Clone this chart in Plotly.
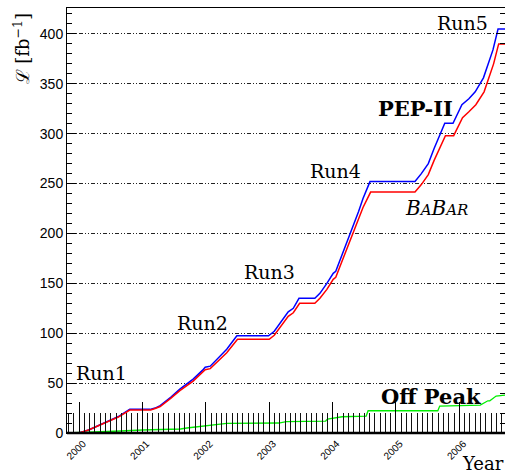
import plotly.graph_objects as go

# ---- data (decimal year, integrated luminosity fb^-1) ----
pep_year = [1999.81, 2000.0, 2000.15, 2000.3, 2000.45, 2000.57, 2000.62, 2000.80, 2001.12, 2001.20,
            2001.28, 2001.45, 2001.59, 2001.80, 2001.95, 2001.99, 2002.07, 2002.20, 2002.33, 2002.49,
            2002.99, 2003.08, 2003.17, 2003.30, 2003.38, 2003.47, 2003.72, 2003.80, 2003.91, 2004.01,
            2004.05, 2004.22, 2004.41, 2004.48, 2004.59, 2005.30, 2005.40, 2005.51, 2005.60, 2005.77,
            2005.90, 2006.04, 2006.15, 2006.25, 2006.38, 2006.53, 2006.61, 2006.72]
pep_lumi = [0, 0, 3, 7, 11.5, 15, 16.5, 23.7, 23.7, 25,
            27.5, 36, 44, 54, 63, 66, 67, 75, 84, 97.5,
            97.5, 102, 110, 121.5, 125, 135, 135, 140, 150, 160,
            162, 190, 222, 235, 252, 252, 260, 270, 285, 310.5,
            310.5, 329, 335, 342, 356, 384, 405, 405]

babar_year = [1999.81, 2000.0, 2000.15, 2000.3, 2000.45, 2000.57, 2000.62, 2000.80, 2001.13, 2001.20,
              2001.28, 2001.45, 2001.59, 2001.80, 2001.95, 2001.99, 2002.07, 2002.20, 2002.33, 2002.50,
              2003.00, 2003.08, 2003.17, 2003.30, 2003.38, 2003.48, 2003.72, 2003.80, 2003.91, 2004.01,
              2004.05, 2004.22, 2004.41, 2004.48, 2004.60, 2005.30, 2005.40, 2005.51, 2005.60, 2005.78,
              2005.91, 2006.05, 2006.15, 2006.26, 2006.39, 2006.54, 2006.62, 2006.72]
babar_lumi = [0, 0, 3, 7, 11, 14.5, 16, 23, 23, 24.5,
              26.5, 35, 42.5, 52, 61, 63.5, 64.5, 72, 80.5, 94,
              94, 98, 106, 117, 120.5, 130, 130, 135, 144, 154,
              156, 183, 213, 226, 241.5, 241.5, 249, 259, 273, 298,
              298, 316, 322, 329, 342, 370, 390, 390]

off_year = [1999.81, 2000.09, 2000.65, 2001.0, 2001.6, 2001.7, 2001.86, 2002.07, 2002.33, 2003.15,
            2003.27, 2003.89, 2003.92, 2004.15, 2004.53, 2004.56, 2005.66, 2005.69, 2006.30, 2006.33,
            2006.45, 2006.48, 2006.58, 2006.72]
off_lumi = [0, 0.5, 2, 3, 4, 5, 6.3, 8, 9.7, 10,
            11.5, 12, 14, 16.3, 17, 22.3, 22.3, 27, 27.5, 28,
            32.3, 32.3, 37, 38]

year_ticks = [2000, 2001, 2002, 2003, 2004, 2005, 2006]
lumi_ticks = [0, 50, 100, 150, 200, 250, 300, 350, 400]

X_RANGE = [1999.81, 2006.72]
Y_RANGE = [0, 426]

fig = go.Figure()
fig.add_trace(go.Scatter(x=off_year, y=off_lumi, mode="lines",
                         line=dict(color="#00ee00", width=1.3), showlegend=False))
fig.add_trace(go.Scatter(x=pep_year, y=pep_lumi, mode="lines",
                         line=dict(color="#0000ff", width=1.5), showlegend=False))
fig.add_trace(go.Scatter(x=babar_year, y=babar_lumi, mode="lines",
                         line=dict(color="#ff0000", width=1.5), showlegend=False))

serif = "DejaVu Serif"
ann = [
    ("Run1", 2000.355, 60.1, 19),
    ("Run2", 2001.948, 109.8, 19),
    ("Run3", 2002.997, 160.9, 19),
    ("Run4", 2004.046, 263.1, 19),
    ("Run5", 2006.049, 411.0, 19),
    ("<b>PEP-II</b>", 2005.315, 324.8, 21),
    ("<b>Off Peak</b>", 2005.552, 36.1, 21),
]
for txt, x, y, sz in ann:
    fig.add_annotation(x=x, y=y, xref="x", yref="y", text=txt, showarrow=False,
                       font=dict(family=serif, size=sz, color="black"),
                       xanchor="center", yanchor="middle")

fig.add_annotation(x=2005.639, y=225.5, xref="x", yref="y", showarrow=False,
                   text="<i>B<span style='font-size:15px'>A</span>B<span style='font-size:15px'>AR</span></i>",
                   font=dict(family=serif, size=20, color="black"),
                   xanchor="center", yanchor="middle")

fig.add_annotation(x=0.8995, y=-0.0985, xref="paper", yref="paper", text="Year",
                   showarrow=False, font=dict(family=serif, size=18, color="black"),
                   xanchor="left", yanchor="bottom", borderpad=0)

fig.add_annotation(x=-0.1027, y=0.905, xref="paper", yref="paper",
                   text="ℒ [fb<sup>−1</sup>]", textangle=-90, showarrow=False,
                   font=dict(family=serif, size=18, color="black"),
                   xanchor="center", yanchor="middle")

# thick baseline
fig.add_shape(type="line", xref="paper", yref="paper", x0=0, x1=1, y0=0, y1=0,
              line=dict(color="black", width=2.5))

fig.update_layout(
    width=505, height=475,
    margin=dict(l=67, r=0, t=8, b=42),
    paper_bgcolor="white", plot_bgcolor="white",
    xaxis=dict(range=X_RANGE, tickvals=year_ticks, ticktext=[str(v) for v in year_ticks],
               tickangle=-45, ticks="inside", ticklen=31, tickwidth=1, tickcolor="black",
               minor=dict(dtick=1/12, tick0=2000, ticks="inside", ticklen=20, tickwidth=1,
                          tickcolor="#111", showgrid=False),
               showgrid=False, zeroline=False, showline=True, linecolor="black", linewidth=1,
               mirror=True, tickfont=dict(family="Liberation Sans", size=10, color="black"),
               ticklabelshift=4),
    yaxis=dict(range=Y_RANGE, tickvals=lumi_ticks, ticks="inside", ticklen=9, tickwidth=1,
               tickcolor="black",
               minor=dict(dtick=10, tick0=0, ticks="inside", ticklen=5, tickwidth=1,
                          tickcolor="black", showgrid=False),
               showgrid=True, gridcolor="#222", gridwidth=1, griddash="4px,2px,1px,2px,1px,2px",
               zeroline=False, showline=True, linecolor="black", linewidth=1, mirror="ticks",
               tickfont=dict(family="Liberation Sans", size=14, color="black")),
)

fig.write_html("out.html")
